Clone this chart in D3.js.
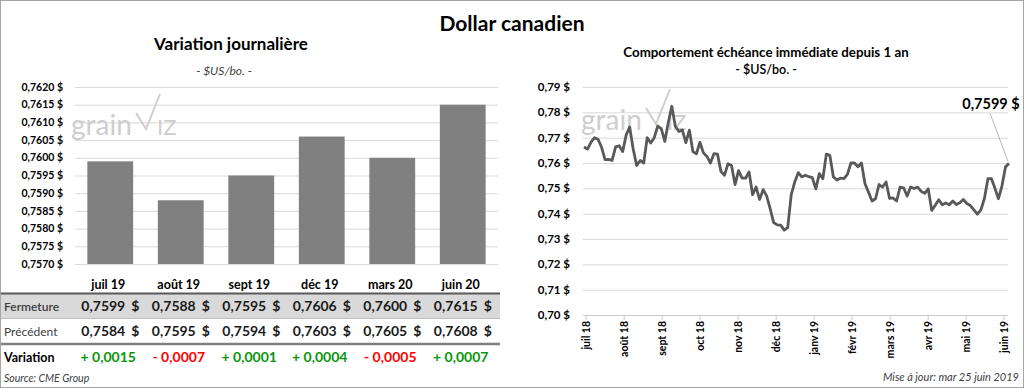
<!DOCTYPE html>
<html>
<head>
<meta charset="utf-8">
<script src="https://cdn.jsdelivr.net/npm/d3@7"></script>
<style>
body { margin: 0; background: #fff; }
svg { display: block; font-family: Lato, "Noto Sans", sans-serif; }
</style>
</head>
<body>
<svg id="chart" width="1024" height="388"></svg>
<script>
// contrats du dollar canadien (tableau de gauche)
var contracts = ["juil 19", "août 19", "sept 19", "déc 19", "mars 20", "juin 20"];
var closes = [0.7599, 0.7588, 0.7595, 0.7606, 0.7600, 0.7615];
var previous = [0.7584, 0.7595, 0.7594, 0.7603, 0.7605, 0.7608];
var changes = [0.0015, -0.0007, 0.0001, 0.0004, -0.0005, 0.0007];
var barTicks = [0.7570, 0.7575, 0.7580, 0.7585, 0.7590, 0.7595, 0.7600, 0.7605, 0.7610, 0.7615, 0.7620];

var nearby = [
  0.7663, 0.7655, 0.7682, 0.7700, 0.7694, 0.7662, 0.7613, 0.7614, 0.7610, 0.7664,
  0.7668, 0.7645, 0.7710, 0.7742, 0.7655, 0.7590, 0.7610, 0.7600, 0.7700, 0.7679,
  0.7700, 0.7746, 0.7736, 0.7685, 0.7760, 0.7824, 0.7745, 0.7725, 0.7730, 0.7680,
  0.7730, 0.7645, 0.7636, 0.7682, 0.7640, 0.7626, 0.7600, 0.7637, 0.7635, 0.7566,
  0.7552, 0.7597, 0.7590, 0.7515, 0.7570, 0.7540, 0.7540, 0.7565, 0.7475, 0.7505,
  0.7456, 0.7495, 0.7470, 0.7420, 0.7365, 0.7356, 0.7355, 0.7335, 0.7345, 0.7475,
  0.7525, 0.7562, 0.7545, 0.7552, 0.7546, 0.7542, 0.7498, 0.7558, 0.7538, 0.7635,
  0.7630, 0.7545, 0.7533, 0.7540, 0.7538, 0.7555, 0.7600, 0.7600, 0.7585, 0.7600,
  0.7518, 0.7485, 0.7450, 0.7459, 0.7515, 0.7505, 0.7525, 0.7460, 0.7462, 0.7450,
  0.7505, 0.7502, 0.7470, 0.7505, 0.7499, 0.7505, 0.7488, 0.7480, 0.7498, 0.7413,
  0.7433, 0.7455, 0.7435, 0.7442, 0.7435, 0.7450, 0.7436, 0.7443, 0.7456, 0.7440,
  0.7432, 0.7415, 0.7398, 0.7415, 0.7460, 0.7538, 0.7538, 0.7500, 0.7459, 0.7510,
  0.7584, 0.7599
];
var monthLabels = ["juil 18", "août 18", "sept 18", "oct 18", "nov 18", "déc 18",
  "janv 19", "févr 19", "mars 19", "avr 19", "mai 19", "juin 19"];
var lineTicks = [0.70, 0.71, 0.72, 0.73, 0.74, 0.75, 0.76, 0.77, 0.78, 0.79];

// une étiquette de mois toutes les ~11 observations
var monthStart = 0.6, monthEvery = 10.82;

var fr = d3.formatLocale({decimal: ",", thousands: "\u00a0", grouping: [3], currency: ["", " $"]});
var f4 = fr.format(".4f"), f2 = fr.format(".2f");

var svg = d3.select("#chart");
var W = 1024, H = 388;

svg.append("rect")
  .attr("x", 0.5).attr("y", 0.5)
  .attr("width", W - 1).attr("height", H - 1)
  .attr("fill", "#fff").attr("stroke", "#a6a6a6");

svg.append("text")
  .attr("x", 512).attr("y", 31)
  .attr("text-anchor", "middle")
  .attr("font-size", 21).attr("font-weight", "bold")
  .text("Dollar canadien");

function watermark(g, x0, y0) {
  var wm = g.append("g").attr("fill", "#cecece");
  wm.append("text").attr("x", x0).attr("y", y0).attr("font-size", 28).text("grain");
  wm.append("path")
    .attr("d", "M" + (x0 + 65) + "," + (y0 - 22) + "L" + (x0 + 75) + "," + (y0 - 6) + "L" + (x0 + 89) + "," + (y0 - 41))
    .attr("fill", "none").attr("stroke", "#cecece").attr("stroke-width", 2);
  wm.append("text").attr("x", x0 + 86).attr("y", y0).attr("font-size", 22).text("IZ");
}

// ---------- graphique de gauche ----------
var xb = d3.scaleBand().domain(contracts).range([75, 498]).paddingInner(0.35).paddingOuter(0.175);
var yb = d3.scaleLinear().domain([0.7570, 0.7620]).range([264, 87]);
var left = svg.append("g");

left.append("text")
  .attr("x", 231).attr("y", 50)
  .attr("text-anchor", "middle")
  .attr("font-size", 17).attr("font-weight", "bold")
  .text("Variation journalière");
left.append("text")
  .attr("x", 224).attr("y", 75)
  .attr("text-anchor", "middle")
  .attr("font-size", 12).attr("font-style", "italic").attr("fill", "#404040")
  .text("- $US/bo. -");

left.selectAll(".grid").data(barTicks).enter().append("line")
  .attr("class", "grid")
  .attr("x1", 75).attr("x2", 498)
  .attr("y1", function(d) { return yb(d) + 0.5; })
  .attr("y2", function(d) { return yb(d) + 0.5; })
  .attr("stroke", "#d9d9d9");

left.selectAll(".ytick").data(barTicks).enter().append("text")
  .attr("class", "ytick")
  .attr("x", 63).attr("y", function(d) { return yb(d); })
  .attr("dy", "0.35em").attr("text-anchor", "end")
  .attr("font-size", 10.5).attr("font-weight", "bold")
  .text(function(d) { return f4(d) + " $"; });

watermark(left, 71, 135);

left.selectAll(".bar").data(closes).enter().append("rect")
  .attr("class", "bar")
  .attr("x", function(d, i) { return xb(contracts[i]); })
  .attr("y", function(d) { return yb(d); })
  .attr("width", xb.bandwidth())
  .attr("height", function(d) { return yb(0.7570) - yb(d); })
  .attr("fill", "#808080");

// tableau
function cx(i) { return xb(contracts[i]) + xb.bandwidth() / 2; }

left.selectAll(".cat").data(contracts).enter().append("text")
  .attr("class", "cat")
  .attr("x", function(d, i) { return cx(i) - 2; }).attr("y", 289)
  .attr("text-anchor", "middle")
  .attr("font-size", 12.5).attr("font-weight", "bold")
  .text(function(d) { return d; });

left.append("rect").attr("x", 1).attr("y", 294).attr("width", 499).attr("height", 24).attr("fill", "#d9d9d9");
left.append("line").attr("x1", 1).attr("x2", 500).attr("y1", 293.5).attr("y2", 293.5)
  .attr("stroke", "#595959").attr("stroke-width", 2);
left.append("line").attr("x1", 1).attr("x2", 500).attr("y1", 318.5).attr("y2", 318.5)
  .attr("stroke", "#bfbfbf");
left.append("line").attr("x1", 1).attr("x2", 500).attr("y1", 344).attr("y2", 344)
  .attr("stroke", "#7f7f7f").attr("stroke-width", 2.5);

var rows = [
  {label: "Fermeture", values: closes, y: 311, weight: 600, fill: "#404040"},
  {label: "Précédent", values: previous, y: 336, weight: "normal", fill: "#404040"}
];
rows.forEach(function(r) {
  left.append("text").attr("x", 4).attr("y", r.y)
    .attr("font-size", 12).attr("font-weight", r.weight).attr("fill", r.fill)
    .text(r.label);
  var cells = left.selectAll(null).data(r.values).enter().append("g")
    .attr("font-size", 14).attr("font-weight", "bold").attr("fill", "#1a1a1a")
    .attr("text-anchor", "end");
  cells.append("text").attr("x", function(d, i) { return cx(i) + 15; }).attr("y", r.y)
    .text(function(d) { return f4(d); });
  cells.append("text").attr("x", function(d, i) { return cx(i) + 29; }).attr("y", r.y)
    .text("$");
});

left.append("text").attr("x", 4).attr("y", 362)
  .attr("font-size", 12.5).attr("font-weight", "bold")
  .text("Variation");
left.selectAll(".chg").data(changes).enter().append("text")
  .attr("class", "chg")
  .attr("x", function(d, i) { return cx(i) - 2; }).attr("y", 362)
  .attr("text-anchor", "middle")
  .attr("font-size", 14).attr("font-weight", "bold")
  .attr("fill", function(d) { return d < 0 ? "#ff0000" : "#0a960a"; })
  .text(function(d) { return (d < 0 ? "- " : "+ ") + f4(Math.abs(d)); });

left.append("text").attr("x", 4).attr("y", 382)
  .attr("font-size", 10.5).attr("font-style", "italic").attr("fill", "#404040")
  .text("Source: CME Group");

// ---------- graphique de droite ----------
var xl = d3.scaleLinear().domain([0, nearby.length - 1]).range([584, 1009]);
var yl = d3.scaleLinear().domain([0.70, 0.79]).range([315, 87]);
var right = svg.append("g");

right.append("text")
  .attr("x", 766).attr("y", 57)
  .attr("text-anchor", "middle")
  .attr("font-size", 13.3).attr("font-weight", "bold")
  .text("Comportement échéance immédiate depuis 1 an");
right.append("text")
  .attr("x", 766).attr("y", 74)
  .attr("text-anchor", "middle")
  .attr("font-size", 12.5).attr("font-weight", 600)
  .text("- $US/bo. -");

right.selectAll(".grid").data(lineTicks).enter().append("line")
  .attr("class", "grid")
  .attr("x1", 583).attr("x2", 1008)
  .attr("y1", function(d) { return yl(d) + 0.5; })
  .attr("y2", function(d) { return yl(d) + 0.5; })
  .attr("stroke", function(d) { return d === 0.70 ? "#c8c8c8" : "#d9d9d9"; });

right.selectAll(".ytick").data(lineTicks).enter().append("text")
  .attr("class", "ytick")
  .attr("x", 570).attr("y", function(d) { return yl(d); })
  .attr("dy", "0.35em").attr("text-anchor", "end")
  .attr("font-size", 11.5).attr("font-weight", "bold")
  .text(function(d) { return f2(d) + " $"; });

var months = right.selectAll(".month").data(monthLabels).enter().append("g")
  .attr("class", "month")
  .attr("transform", function(d, i) { return "translate(" + xl(monthStart + i * monthEvery) + ",315)"; });
months.append("line").attr("y1", 0).attr("y2", 5).attr("stroke", "#c8c8c8");
months.append("text")
  .attr("transform", "translate(0,6) rotate(-90)")
  .attr("dy", "0.35em").attr("text-anchor", "end")
  .attr("font-size", 10.5).attr("font-weight", "bold")
  .text(function(d) { return d; });

watermark(right, 581, 130);

var line = d3.line()
  .x(function(d, i) { return xl(i); })
  .y(function(d) { return yl(d); });
right.append("path")
  .datum(nearby)
  .attr("d", line)
  .attr("fill", "none").attr("stroke", "#595959")
  .attr("stroke-width", 2.8).attr("stroke-linejoin", "round");

var lastI = nearby.length - 1, last = nearby[lastI];
right.append("line")
  .attr("x1", xl(lastI) - 19).attr("y1", yl(last) - 50)
  .attr("x2", xl(lastI) - 1).attr("y2", yl(last) - 2)
  .attr("stroke", "#a6a6a6").attr("stroke-width", 0.8);
right.append("text")
  .attr("x", xl(lastI) - 18).attr("y", yl(last) - 54)
  .attr("text-anchor", "middle")
  .attr("font-size", 14.5).attr("font-weight", "bold")
  .text(f4(last) + " $");

right.append("text").attr("x", 1019).attr("y", 381)
  .attr("text-anchor", "end")
  .attr("font-size", 11).attr("font-style", "italic").attr("fill", "#404040")
  .text("Mise à jour: mar 25 juin 2019");
</script>
</body>
</html>
